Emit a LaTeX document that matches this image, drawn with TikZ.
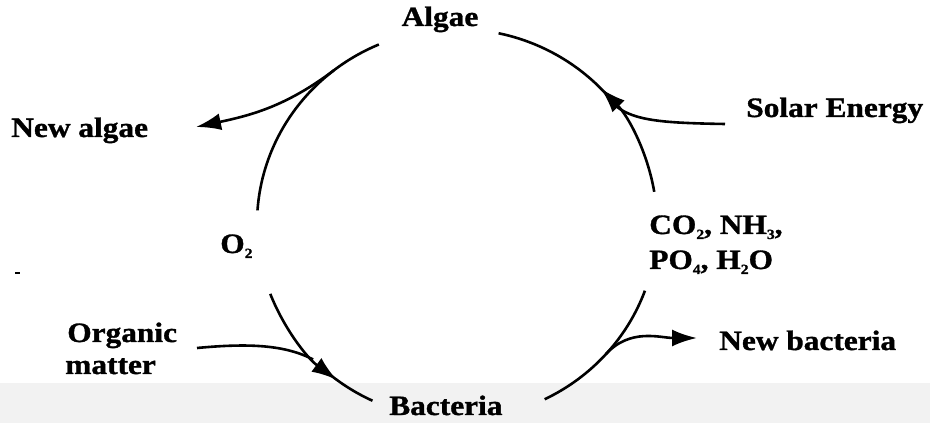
\documentclass[tikz,border=0pt]{standalone}
\usepackage{fontspec}
\setmainfont{Liberation Serif}[FakeStretch=1.12, BoldFeatures={FakeBold=1.2}]
\usetikzlibrary{arrows.meta}
\newcommand{\chs}[1]{\raisebox{-5pt}{\fontsize{14}{14}\selectfont #1}}
\begin{document}
\begin{tikzpicture}[x=1pt,y=1pt, line width=2.6pt,
  lbl/.style={font=\fontsize{28}{34}\selectfont\bfseries, inner sep=0pt},
  tip/.style={-{Latex[length=25pt,width=17pt]}},
  ell/.style={x radius=200pt, y radius=195pt}]
\fill[black!5] (0,0) rectangle (930,40);
\useasboundingbox (0,0) rectangle (930,423);
\coordinate (C) at (457,199);
% points on the cycle
\path (C) ++(9.5:200pt and 195pt) coordinate (pco);
\path (C) ++(37:200pt and 195pt) coordinate (psol);
\path (C) ++(42:200pt and 195pt) coordinate (ptr);
\path (C) ++(113:200pt and 195pt) coordinate (ptl);
\path (C) ++(128:200pt and 195pt) coordinate (pna);
\path (C) ++(201:200pt and 195pt) coordinate (pox);
\path (C) ++(224:200pt and 195pt) coordinate (porg);
\path (C) ++(231:200pt and 195pt) coordinate (pbl);
\path (C) ++(-64:200pt and 195pt) coordinate (pbac);
\path (C) ++(-42:200pt and 195pt) coordinate (pnb);
% free ends
\coordinate (nalgtip) at (196,296);
\coordinate (soltail) at (725,299);
\coordinate (orgtail) at (197,75);
\coordinate (nbtip) at (697,85);
% labels
\node[lbl, anchor=base] (algae) at (440,397) {Algae};
\node[lbl, anchor=base west] (newalgae) at (10,286) {New algae};
\node[lbl, anchor=base west] (solar) at (745,306) {Solar Energy};
\node[lbl, anchor=base west] (o2) at (219,170) {O\chs{2}};
\node[lbl, anchor=base west] (co2a) at (648,189) {CO\chs{2}, NH\chs{3},};
\node[lbl, anchor=base west] (co2b) at (648,154) {PO\chs{4}, H\chs{2}O};
\node[lbl, anchor=base west] (org1) at (66,81) {Organic};
\node[lbl, anchor=base west] (org2) at (64,49) {matter};
\node[lbl, anchor=base west] (newbac) at (718,73) {New bacteria};
\node[lbl, anchor=base west] (bac) at (388,8) {Bacteria};
% cycle arcs
\draw[tip] (pco) arc[start angle=9.5, end angle=44, ell];
\draw (ptr) arc[start angle=42, end angle=78, ell];
\draw (ptl) arc[start angle=113, end angle=176, ell];
\draw[tip] (pox) arc[start angle=201, end angle=233, ell];
\draw (pbl) arc[start angle=231, end angle=245, ell];
\draw (pbac) arc[start angle=-64, end angle=-20, ell];
% branches
\draw[tip] (pna) to[out=217, in=12] (nalgtip);
\draw (soltail) .. controls (665,300) and (635,302) .. (psol);
\draw (orgtail) .. controls (250,80) and (285,78) .. (porg);
\draw[tip] (pnb) to[out=48, in=180] (nbtip);
% speck
\draw[line width=1.5pt] (15,150) -- (20,150);
\end{tikzpicture}
\end{document}
